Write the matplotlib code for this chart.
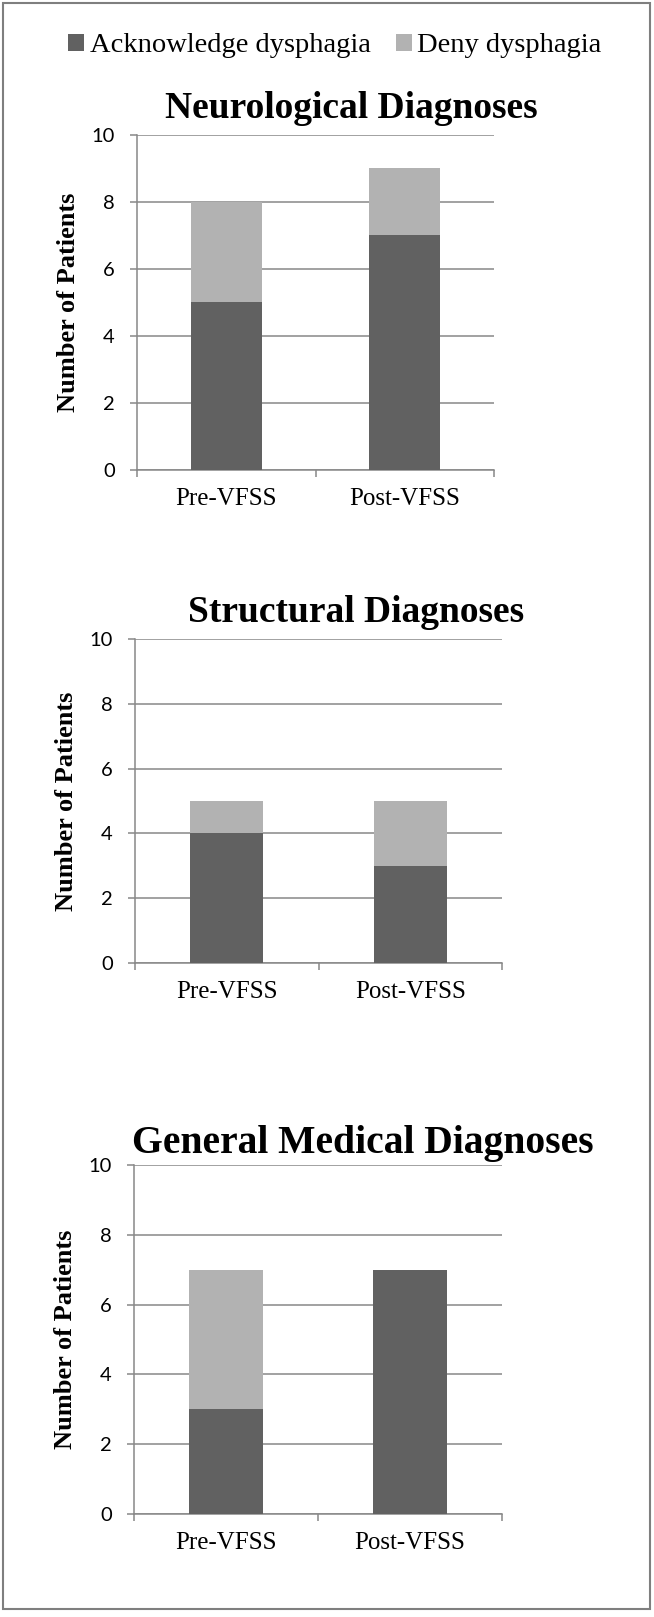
import matplotlib
matplotlib.use('Agg')
import matplotlib.pyplot as plt
from matplotlib.patches import Patch, Rectangle

# Data
categories = ['Pre-VFSS', 'Post-VFSS']
neuro_ack = [5, 7]
neuro_deny = [3, 2]
struct_ack = [4, 3]
struct_deny = [1, 2]
general_ack = [3, 7]
general_deny = [4, 0]

titles = ['Neurological Diagnoses', 'Structural Diagnoses', 'General Medical Diagnoses']
series_labels = ['Acknowledge dysphagia', 'Deny dysphagia']
y_ticks = [0, 2, 4, 6, 8, 10]

DARK = '#616161'
LIGHT = '#b2b2b2'
GRID = '#888888'
SERIF = 'Liberation Serif'
SANS = 'Lato'

plt.rcParams['font.family'] = [SERIF, 'DejaVu Serif']

W, H = 654, 1617
fig = plt.figure(figsize=(W / 100, H / 100), dpi=100)

# panel boxes in pixels: left, right, top, bottom
boxes = [(137, 494, 135, 470), (135, 502, 639, 963), (134, 502, 1165, 1514)]
title_pos = [(351, 108), (356, 612), (363, 1143)]
title_size = [27, 27, 28.5]
panels = [(neuro_ack, neuro_deny), (struct_ack, struct_deny), (general_ack, general_deny)]

for (l, r, t, b), (tx, ty), ts, title, (ack, deny) in zip(boxes, title_pos, title_size, titles, panels):
    ax = fig.add_axes([l / W, 1 - b / H, (r - l) / W, (b - t) / H])
    x = range(len(categories))
    ax.bar(x, ack, width=0.4, color=DARK, zorder=3)
    ax.bar(x, deny, width=0.4, bottom=ack, color=LIGHT, zorder=3)
    ax.set_xlim(-0.5, 1.5)
    ax.set_ylim(0, 10)
    ax.set_yticks(y_ticks)
    ax.set_yticklabels([str(v) for v in y_ticks], family=SANS, fontsize=14.5)
    ax.set_xticks(list(x))
    ax.set_xticklabels(categories, family=SERIF, fontsize=18)
    ax.set_xticks([-0.5, 0.5, 1.5], minor=True)
    ax.tick_params(axis='x', which='major', length=0, pad=13)
    ax.tick_params(axis='x', which='minor', length=5, width=1.1, color=GRID, direction='out')
    ax.tick_params(axis='y', length=5, width=1.1, color=GRID, pad=11)
    ax.yaxis.grid(True, color=GRID, linewidth=1.1, zorder=0)
    ax.set_axisbelow(True)
    for side in ['top', 'right']:
        ax.spines[side].set_visible(False)
    for side in ['left', 'bottom']:
        ax.spines[side].set_color(GRID)
        ax.spines[side].set_linewidth(1.1)
    ax.set_ylabel('Number of Patients', family=SERIF, fontweight='bold',
                  fontsize=19, labelpad=8)
    fig.text(tx / W, 1 - ty / H, title, family=SERIF, fontweight='bold',
             fontsize=ts, ha='center', va='center')

handles = [Patch(facecolor=DARK), Patch(facecolor=LIGHT)]
fig.legend(handles, series_labels, loc='center', bbox_to_anchor=(335 / W, 1 - 46 / H),
           ncol=2, frameon=False, prop={'family': SERIF, 'size': 20.5},
           handlelength=0.55, handleheight=0.55, handletextpad=0.2, columnspacing=0.9)

# outer border
fig.patches.append(Rectangle((3 / W, 1 - 1609 / H), 647 / W, 1606 / H,
                             transform=fig.transFigure, fill=False,
                             edgecolor='#7f7f7f', linewidth=1.5))

fig.savefig('out.png', dpi=100)
